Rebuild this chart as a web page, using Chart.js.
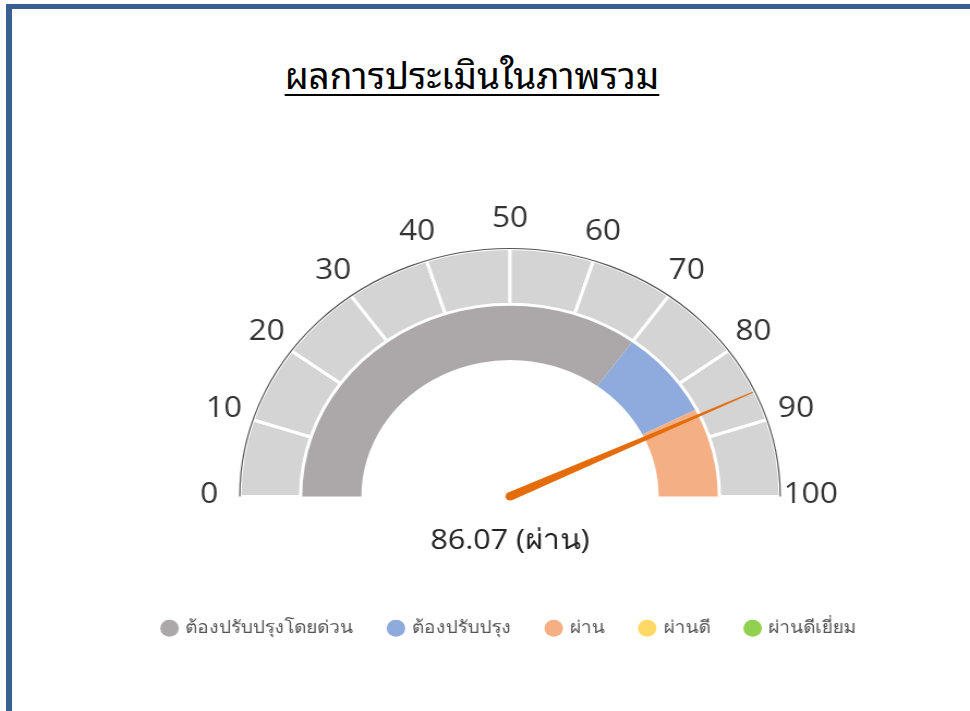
<!DOCTYPE html>
<html>
<head>
<meta charset="utf-8">
<script src="https://cdn.jsdelivr.net/npm/chart.js@4.4.1/dist/chart.umd.min.js"></script>
<style>
  html, body { margin: 0; padding: 0; background: #fff; overflow: hidden; }
  body { width: 970px; height: 711px; position: relative; }
  #frame {
    position: absolute; left: 6px; top: 4px; width: 1000px; height: 800px;
    border-left: 6px solid #3b5f8e; border-top: 5px solid #3b5f8e;
  }
  #title {
    position: absolute; left: 172px; top: 43px; width: 600px; text-align: center;
    font-family: "Noto Sans Thai Looped", "Loma", "Garuda", "Tahoma", "Noto Sans Thai", "Noto Sans", sans-serif;
    font-size: 37px; color: #000;
    text-decoration: underline; text-decoration-thickness: 2px; text-underline-offset: 5px;
  }
  #wrap {
    position: absolute; left: 110px; top: 187px; width: 800px; height: 470px;
    transform: scaleX(1.09); transform-origin: 50% 50%;
  }
</style>
</head>
<body>
<div id="frame"></div>
<div id="title">ผลการประเมินในภาพรวม</div>
<div id="wrap"><canvas id="gauge" width="800" height="470"></canvas></div>
<script>
// levels shown in the inner ring and the legend
const categories = ['ต้องปรับปรุงโดยด่วน', 'ต้องปรับปรุง', 'ผ่าน', 'ผ่านดี', 'ผ่านดีเยี่ยม'];
const levelColors = ['#aca8a9', '#8faadc', '#f4b084', '#ffd966', '#92d050'];
const levelValues = [70, 15, 15, 0, 0];

// outer scale ring, 10 blocks of 10
const scaleValues = [10, 10, 10, 10, 10, 10, 10, 10, 10, 10];
const tickValues = [0, 10, 20, 30, 40, 50, 60, 70, 80, 90, 100];
const tickLabels = ['0', '10', '20', '30', '40', '50', '60', '70', '80', '90', '100'];

const score = 86.07;
const scoreLabel = 'ผ่าน';
const scaleMax = 100;

const numFont = '"Open Sans", "Noto Sans", sans-serif';

function valueAngle(v) {
    return Math.PI + (v / scaleMax) * Math.PI;
}

// tick labels, outer outline and needle
const gaugeExtras = {
    id: 'gaugeExtras',
    afterDatasetsDraw(chart) {
        const arc = chart.getDatasetMeta(0).data[0];
        if (!arc) return;
        const ctx = chart.ctx;
        const cx = arc.x, cy = arc.y, r = arc.outerRadius;

        ctx.save();
        // thin outline along the outer edge
        ctx.beginPath();
        ctx.arc(cx, cy, r, Math.PI, 2 * Math.PI);
        ctx.strokeStyle = '#555';
        ctx.lineWidth = 1.2;
        ctx.stroke();

        // tick labels
        ctx.fillStyle = '#333';
        ctx.font = '29px ' + numFont;
        ctx.textAlign = 'center';
        ctx.textBaseline = 'middle';
        tickValues.forEach((v, i) => {
            const a = valueAngle(v);
            const lr = r + 28;
            ctx.fillText(tickLabels[i], cx + lr * Math.cos(a), cy + lr * Math.sin(a) - 2);
        });

        // needle
        const a = valueAngle(score);
        const tipR = r - 2;
        const baseW = 4.2;
        const nx = Math.cos(a), ny = Math.sin(a);
        const px = -ny, py = nx;
        ctx.fillStyle = '#e46c0a';
        ctx.beginPath();
        ctx.moveTo(cx + px * baseW, cy + py * baseW);
        ctx.lineTo(cx + nx * tipR + px * 0.5, cy + ny * tipR + py * 0.5);
        ctx.lineTo(cx + nx * tipR - px * 0.5, cy + ny * tipR - py * 0.5);
        ctx.lineTo(cx - px * baseW, cy - py * baseW);
        ctx.closePath();
        ctx.fill();
        ctx.beginPath();
        ctx.arc(cx, cy, baseW, 0, 2 * Math.PI);
        ctx.fill();
        ctx.restore();
    }
};

const ctx = document.getElementById('gauge').getContext('2d');
new Chart(ctx, {
    type: 'doughnut',
    data: {
        labels: categories,
        datasets: [
            {
                data: scaleValues,
                backgroundColor: '#d4d4d4',
                borderColor: '#ffffff',
                borderWidth: 3
            },
            {
                data: levelValues,
                backgroundColor: levelColors,
                borderWidth: 0
            }
        ]
    },
    options: {
        responsive: false,
        animation: false,
        events: [],
        rotation: -90,
        circumference: 180,
        cutout: '55%',
        layout: { padding: { top: 60, bottom: 10, left: 0, right: 0 } },
        plugins: {
            tooltip: { enabled: false },
            title: {
                display: true,
                position: 'bottom',
                text: score.toFixed(2) + ' (' + scoreLabel + ')',
                color: '#222',
                font: { size: 28, family: numFont, weight: 'normal' },
                padding: { top: 26, bottom: 29 }
            },
            legend: {
                position: 'bottom',
                weight: 3000,
                labels: {
                    usePointStyle: true,
                    boxWidth: 12,
                    boxHeight: 12,
                    padding: 33,
                    color: '#555',
                    font: { size: 17.5, family: numFont },
                    generateLabels: () => categories.map((c, i) => ({
                        text: c,
                        fillStyle: levelColors[i],
                        strokeStyle: levelColors[i],
                        lineWidth: 0,
                        pointStyle: 'circle',
                        hidden: false,
                        index: i,
                        fontColor: '#555'
                    }))
                }
            }
        }
    },
    plugins: [gaugeExtras]
});
</script>
</body>
</html>
